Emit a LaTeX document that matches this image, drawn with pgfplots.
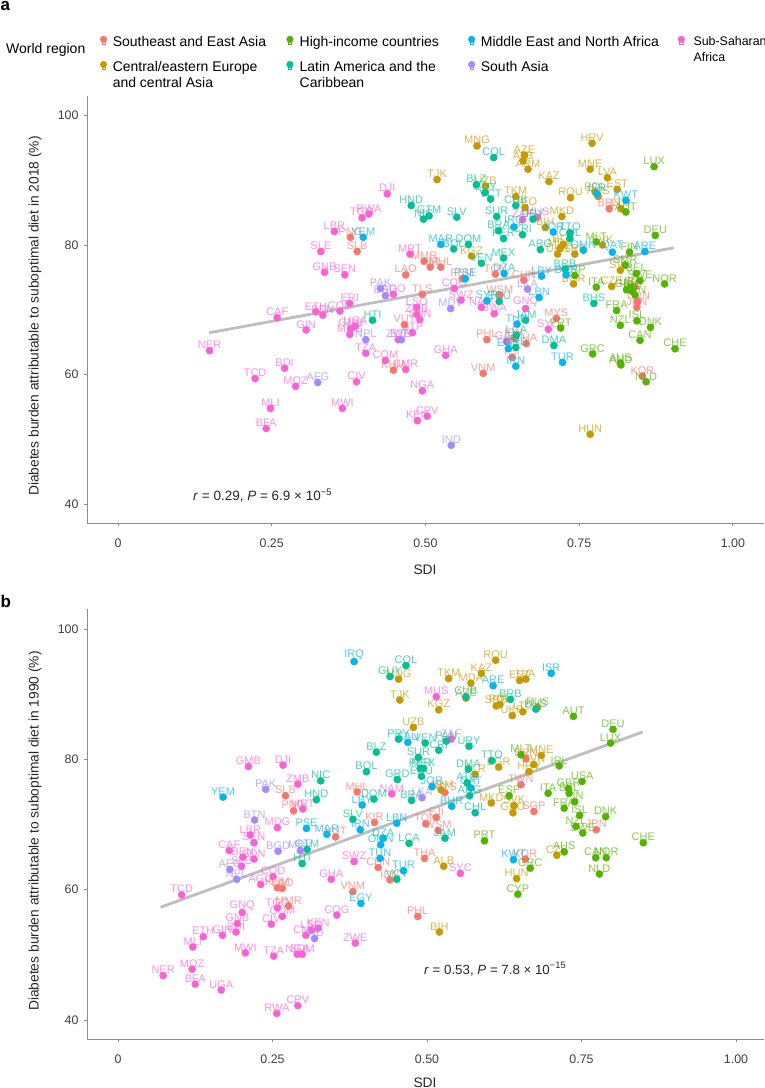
\documentclass[border=0pt]{standalone}
\usepackage{fontspec}
\setmainfont{Liberation Sans}
\usepackage{pgfplots}
\pgfplotsset{compat=1.18}
\definecolor{sea}{HTML}{F8766D}
\definecolor{cea}{HTML}{C49A00}
\definecolor{hic}{HTML}{53B400}
\definecolor{lac}{HTML}{00C094}
\definecolor{mena}{HTML}{00B6EB}
\definecolor{sas}{HTML}{A58AFF}
\definecolor{ssa}{HTML}{FB61D7}
\definecolor{spine}{HTML}{8C8C8C}
\definecolor{trend}{HTML}{BEBEBE}

\pgfplotsset{
  reg/.style={only marks, mark=*, color=#1, mark size=3.6pt,
    mark options={draw=none, fill=#1},
    point meta=explicit symbolic, nodes near coords,
    nodes near coords style={font=\fontsize{11}{11}\selectfont, text=#1, text opacity=0.7,
      inner sep=0pt, anchor=south, yshift=1.6pt}},
  regkey/.style={legend image code/.code={
    \draw[#1, line width=0.7pt, fill=white] (-1.6pt,-2.6pt) rectangle (1.6pt,0.8pt);
    \fill[#1] (0pt,2.8pt) circle (3.3pt);}},
  panel/.style={
    scale only axis, axis lines=left, axis line style={spine, line width=0.9pt, -},
    tick style={spine, line width=0.7pt}, tickwidth=3pt, tick align=outside,
    clip=false,
    xtick={0,0.25,0.5,0.75,1}, xticklabels={0,0.25,0.50,0.75,1.00},
    ytick={40,60,80,100},
    /pgf/number format/assume math mode=true,
    tick label style={font=\fontsize{12.4}{14}\selectfont, text=black!75},
    xticklabel style={anchor=center, yshift=-17pt},
    yticklabel style={anchor=east, xshift=-2pt},
    xlabel=SDI,
    label style={font=\fontsize{13.8}{15}\selectfont, text=black!85},
  },
}

\begin{document}
\begin{tikzpicture}
\path[use as bounding box] (0,0) rectangle (764pt,1088pt);
\node[anchor=base west, inner sep=0pt, font=\fontsize{17}{18}\bfseries\selectfont] at (0.5pt,1077pt) {a};
\node[anchor=base west, inner sep=0pt, font=\fontsize{17}{18}\bfseries\selectfont] at (0.5pt,480pt) {b};
\node[anchor=west, inner sep=0pt, font=\fontsize{14}{16}\selectfont] at (6pt,1038pt) {World region};

\begin{axis}[panel, at={(87pt,564.7pt)}, anchor=south west, width=677pt, height=427.3pt,
  xmin=-0.0504, xmax=1.0507, ymin=37.07, ymax=103,
  xlabel style={at={(axis description cs:0.4993,-0.1093)}, anchor=center},
  ylabel={Diabetes burden attributable to suboptimal diet in 2018 (\%)},
  ylabel style={at={(axis description cs:-0.0768,0.485)}, anchor=center},
  legend columns=4,
  legend cell align=left,
  legend style={at={(axis description cs:0.019,1.1413)}, anchor=north west, draw=none, fill=none,
    inner sep=0pt, font=\fontsize{14}{16}\selectfont,
    nodes={inner sep=0pt},
    /tikz/every odd column/.style={column sep=5.7pt},
    /tikz/every even column/.style={column sep=0pt},
    /tikz/row sep=13pt},
]
\addlegendimage{regkey=sea}
\addlegendentry{\raisebox{0pt}[\height][0pt]{\parbox[t]{173.7pt}{Southeast and East Asia}}}
\addlegendimage{regkey=hic}
\addlegendentry{\raisebox{0pt}[\height][0pt]{\hspace*{0.5pt}\parbox[t]{168.5pt}{High-income countries}}}
\addlegendimage{regkey=mena}
\addlegendentry{\raisebox{0pt}[\height][0pt]{\parbox[t]{197pt}{Middle East and North Africa}}}
\addlegendimage{regkey=ssa}
\addlegendentry{\raisebox{0pt}[\height][0pt]{\hspace*{3pt}\parbox[t]{90pt}{\fontsize{12.4}{16}\selectfont Sub-Saharan\\Africa}}}
\addlegendimage{regkey=cea}
\addlegendentry{\raisebox{0pt}[\height][0pt]{\parbox[t]{173.7pt}{Central/eastern Europe\\and central Asia}}}
\addlegendimage{regkey=lac}
\addlegendentry{\raisebox{0pt}[\height][0pt]{\hspace*{0.5pt}\parbox[t]{168.5pt}{Latin America and the\\Caribbean}}}
\addlegendimage{regkey=sas}
\addlegendentry{\raisebox{0pt}[\height][0pt]{\parbox[t]{197pt}{South Asia}}}

\addplot[reg=ssa] table[meta=l] {
x y l
.438 87.9 DJI
.408 84.8 RWA
.397 84.2 TGO
.352 82.1 LBR
.330 79.0 SLE
.475 78.6 MRT
.336 75.8 GNB
.369 75.4 SEN
.547 73.3 COG
.448 72.4 AGO
.377 71.0 ERI
.322 69.7 ETH
.361 69.8 COD
.333 69.2 BEN
.259 68.8 CAF
.486 70.4 LSO
.486 69.3 ZMB
.491 68.5 SDN
.306 66.9 GIN
.386 67.5 UGA
.379 67.1 GMB
.377 66.2 MDG
.479 66.5 STP
.456 65.4 ZWE
.403 63.3 TZA
.435 62.2 COM
.468 60.8 CMR
.271 61.0 BDI
.223 59.4 TCD
.289 58.2 MOZ
.388 58.9 CIV
.149 63.7 NER
.495 57.5 NGA
.248 54.8 MLI
.365 54.8 MWI
.487 52.9 KEN
.503 53.6 CPV
.241 51.7 BFA
.658 83.9 ZAF
.682 84.3 MUS
.558 71.5 SWZ
.591 70.4 NAM
.612 69.4 BWA
.663 70.2 GNQ
.700 67.0 SYC
.533 63.0 GHA
.632 65.1 GAB
};
\addplot[reg=sea] table[meta=l] {
x y l
.378 81.2 PNG
.389 79.0 SLB
.498 77.5 MMR
.508 76.6 KIR
.525 76.6 MHL
.468 75.4 LAO
.495 72.4 TLS
.466 67.7 VUT
.448 60.7 KHM
.614 75.5 TON
.560 74.8 FSM
.660 74.6 CHN
.621 72.3 WSM
.799 85.6 BRN
.713 68.7 MYS
.600 65.4 PHL
.664 64.8 THA
.641 62.7 FJI
.594 60.2 VNM
.845 71.3 TWN
.844 70.4 JPN
.853 59.8 KOR
.841 73.5 SGP
.644 65.6 IDN
};
\addplot[reg=cea] table[meta=l] {
x y l
.519 90.1 TJK
.584 95.3 MNG
.661 93.9 AZE
.659 93.0 ALB
.667 91.7 ARM
.771 95.7 HRV
.768 91.7 MNE
.796 90.4 LVA
.701 89.8 KAZ
.598 89.1 UZB
.647 87.5 TKM
.662 85.8 GEO
.736 87.3 ROU
.812 88.6 EST
.776 88.2 POL
.781 87.5 RUS
.818 85.6 LTU
.722 84.4 MKD
.695 82.7 BIH
.724 80.1 BLR
.715 78.6 UKR
.743 78.6 SRB
.788 80.0 SVK
.719 79.5 MDA
.575 78.3 KGZ
.741 74.0 BGR
.803 73.6 CZE
.817 76.1 SVN
.768 50.8 HUN
};
\addplot[reg=hic] table[meta=l] {
x y l
.872 92.1 LUX
.826 85.1 AUT
.874 81.5 DEU
.778 80.5 MLT
.832 78.9 FIN
.743 75.3 ESP
.778 73.5 ITA
.889 74.0 NOR
.843 75.6 BEL
.849 74.5 SWE
.825 76.9 SMR
.827 73.1 GBR
.834 73.5 USA
.841 72.3 SVN
.836 72.9 IRL
.811 69.9 FRA
.844 68.3 ISL
.817 67.6 NZL
.866 67.3 DNK
.849 65.3 CAN
.906 64.0 CHE
.720 67.2 PRT
.772 63.2 GRC
.817 61.8 AUS
.818 61.5 AND
.859 58.9 NLD
};
\addplot[reg=lac] table[meta=l] {
x y l
.477 86.1 HND
.506 84.5 GTM
.497 84.0 NIC
.551 84.3 SLV
.546 79.4 BOL
.414 68.4 HTI
.611 93.5 COL
.583 89.3 BLZ
.597 88.1 GUY
.606 87.1 VCT
.647 86.1 CUB
.675 84.0 URY
.616 84.4 SUR
.619 82.2 BRA
.627 81.0 PER
.658 81.6 CRI
.735 81.9 TTO
.735 81.0 CHL
.687 79.3 ARG
.570 80.1 DOM
.627 78.0 MEX
.591 77.2 VEN
.727 76.3 BRB
.774 71.0 BHS
.620 71.3 ECU
.663 68.4 JAM
.648 66.1 LCA
.647 64.2 GRD
.709 64.5 DMA
};
\addplot[reg=mena] table[meta=l] {
x y l
.399 81.2 YEM
.525 80.1 MAR
.644 82.8 IRQ
.779 87.9 ISR
.826 86.9 KWT
.708 82.0 JOR
.757 79.2 OMN
.804 78.9 QAT
.857 79.0 ARE
.628 75.6 DZA
.565 74.8 PSE
.689 75.2 LBY
.649 67.8 TUN
.729 75.4 BHR
.685 71.9 LBN
.600 71.4 SYR
.723 61.9 TUR
.647 61.3 IRN
.635 64.0 EGY
};
\addplot[reg=sas] table[meta=l] {
x y l
.427 73.3 PAK
.435 72.2 BGD
.541 70.2 MDV
.403 65.4 NPL
.461 65.4 BTN
.325 58.8 AFG
.542 49.1 IND
.666 73.2 LKA
};
\addplot[trend, line width=2.8pt] coordinates {(0.1485,66.47) (0.904,79.58)};
\node[anchor=west, inner sep=0pt, font=\fontsize{13.5}{15}\selectfont, text=black!85] at (axis cs:0.1220,41.4)
  {\textit{r} = 0.29, \textit{P} = 6.9 × 10\textsuperscript{−5}};
\end{axis}

\begin{axis}[panel, at={(87pt,48.7pt)}, anchor=south west, width=677pt, height=430.3pt,
  xmin=-0.0502, xmax=1.0453, ymin=37.04, ymax=103.07,
  xlabel style={at={(axis description cs:0.4993,-0.1)}, anchor=center},
  ylabel={Diabetes burden attributable to suboptimal diet in 1990 (\%)},
  ylabel style={at={(axis description cs:-0.0768,0.484)}, anchor=center},
]
\addplot[reg=ssa] table[meta=l] {
x y l
.211 78.9 GMB
.267 79.1 DJI
.291 76.2 ZMB
.515 89.6 MUS
.539 83.1 ZAF
.443 74.7 NAM
.299 72.4 MRT
.258 69.5 MDG
.214 68.4 LBR
.220 67.2 SEN
.180 66.0 CAF
.202 65.0 BEN
.220 64.7 SDN
.200 63.6 SLE
.251 62.0 COD
.231 60.8 AGO
.382 64.3 SWZ
.345 61.6 GHA
.103 59.2 TCD
.258 57.2 TGO
.201 56.5 GNQ
.266 55.9 COM
.248 54.7 CIV
.193 54.8 GNB
.191 53.5 BDI
.169 53.0 GIN
.138 52.8 ETH
.354 56.1 COG
.384 51.8 ZWE
.324 54.1 KEN
.313 53.8 LSO
.304 53.0 CMR
.121 51.2 MLI
.206 50.3 MWI
.252 49.8 TZA
.290 50.1 NGA
.298 50.1 SOM
.120 47.8 MOZ
.073 46.8 NER
.125 45.5 BFA
.167 44.6 UGA
.257 41.0 RWA
.291 42.2 CPV
.554 62.5 SYC
};
\addplot[reg=sea] table[meta=l] {
x y l
.774 69.2 JPN
.387 75.0 MHL
.415 70.3 KIR
.515 71.1 FJI
.498 70.1 TON
.518 69.1 WSM
.496 64.8 THA
.485 55.9 PHL
.380 59.7 VNM
.673 72.0 SGP
.659 64.7 KOR
.652 76.1 TWN
.529 74.9 MYS
.421 63.4 CHN
.440 61.5 IDN
.258 60.3 KHM
.266 60.2 LAO
.276 57.5 MMR
.284 72.1 PNG
.271 74.4 SLB
.352 68.1 VUT
.660 80.1 BRN
};
\addplot[reg=cea] table[meta=l] {
x y l
.611 95.2 ROU
.588 93.2 KAZ
.535 92.4 TKM
.454 92.3 MNG
.456 89.1 TJK
.571 91.7 MDA
.650 92.1 EST
.660 92.3 LVA
.655 87.3 LTU
.638 86.7 UKR
.519 87.6 KGZ
.478 84.9 UZB
.563 89.4 AZE
.612 88.2 SRB
.618 88.4 POL
.679 88.0 RUS
.685 80.6 MNE
.665 78.1 HRV
.673 79.2 SVN
.616 78.8 BGR
.578 77.7 BLR
.604 73.3 MKD
.641 72.9 SVK
.639 71.8 GEO
.523 75.3 ARM
.645 61.7 HUN
.527 63.6 ALB
.520 53.5 BIH
.710 65.3 CZE
};
\addplot[reg=mena] table[meta=l] {
x y l
.382 95.0 IRQ
.170 74.2 YEM
.701 93.2 ISR
.607 91.3 ARE
.469 82.6 SAU
.508 75.8 JOR
.571 75.6 QAT
.540 72.8 BHR
.395 73.0 LBY
.305 69.4 PSE
.338 68.5 MAR
.392 69.2 IRN
.451 70.2 LBN
.429 67.9 DZA
.425 66.9 OMN
.424 64.8 TUN
.462 62.9 TUR
.640 64.6 KWT
.393 57.9 EGY
};
\addplot[reg=lac] table[meta=l] {
x y l
.466 94.4 COL
.440 92.7 GUY
.563 89.6 CUB
.635 89.2 BRB
.605 79.8 TTO
.676 87.7 BHS
.454 83.1 PRY
.497 82.5 VEN
.531 82.8 PAN
.519 81.4 CRI
.568 82.0 URY
.418 81.1 BLZ
.486 80.3 SUR
.489 78.6 PER
.494 78.6 MEX
.491 77.4 ECU
.402 78.1 BOL
.452 76.9 GRD
.567 78.5 DMA
.565 76.4 ATG
.475 73.7 BRA
.414 73.9 DOM
.569 74.4 ARG
.578 71.8 CHL
.380 70.8 SLV
.471 67.1 LCA
.529 67.9 JAM
.321 73.8 HND
.328 76.7 NIC
.306 66.2 GTM
.298 64.0 HTI
.451 61.6 VCT
};
\addplot[reg=hic] table[meta=l] {
x y l
.737 86.6 AUT
.801 84.6 DEU
.797 82.5 LUX
.751 76.6 USA
.729 75.5 GBR
.730 74.8 BEL
.696 74.8 ITA
.714 79.0 IRL
.652 80.7 MLT
.739 73.5 FIN
.722 72.5 FRA
.747 71.4 ISL
.741 69.7 NZL
.752 68.7 SWE
.789 71.2 DNK
.850 67.2 CHE
.773 64.9 CAN
.790 64.9 NOR
.779 62.4 NLD
.593 67.5 PRT
.633 74.4 ESP
.667 63.3 GRC
.722 65.8 AUS
.647 59.3 CYP
};
\addplot[reg=sas] table[meta=l] {
x y l
.239 75.4 PAK
.221 70.7 BTN
.259 65.9 BGD
.192 61.6 NPL
.181 63.1 AFG
.295 66.0 MDV
.318 52.5 IND
.492 74.1 LKA
};
\addplot[trend, line width=2.8pt] coordinates {(0.069,57.3) (0.849,84.2)};
\node[anchor=west, inner sep=0pt, font=\fontsize{13.3}{15}\selectfont, text=black!85] at (axis cs:0.495,47.8)
  {\textit{r} = 0.53, \textit{P} = 7.8 × 10\textsuperscript{−15}};
\end{axis}
\end{tikzpicture}
\end{document}
